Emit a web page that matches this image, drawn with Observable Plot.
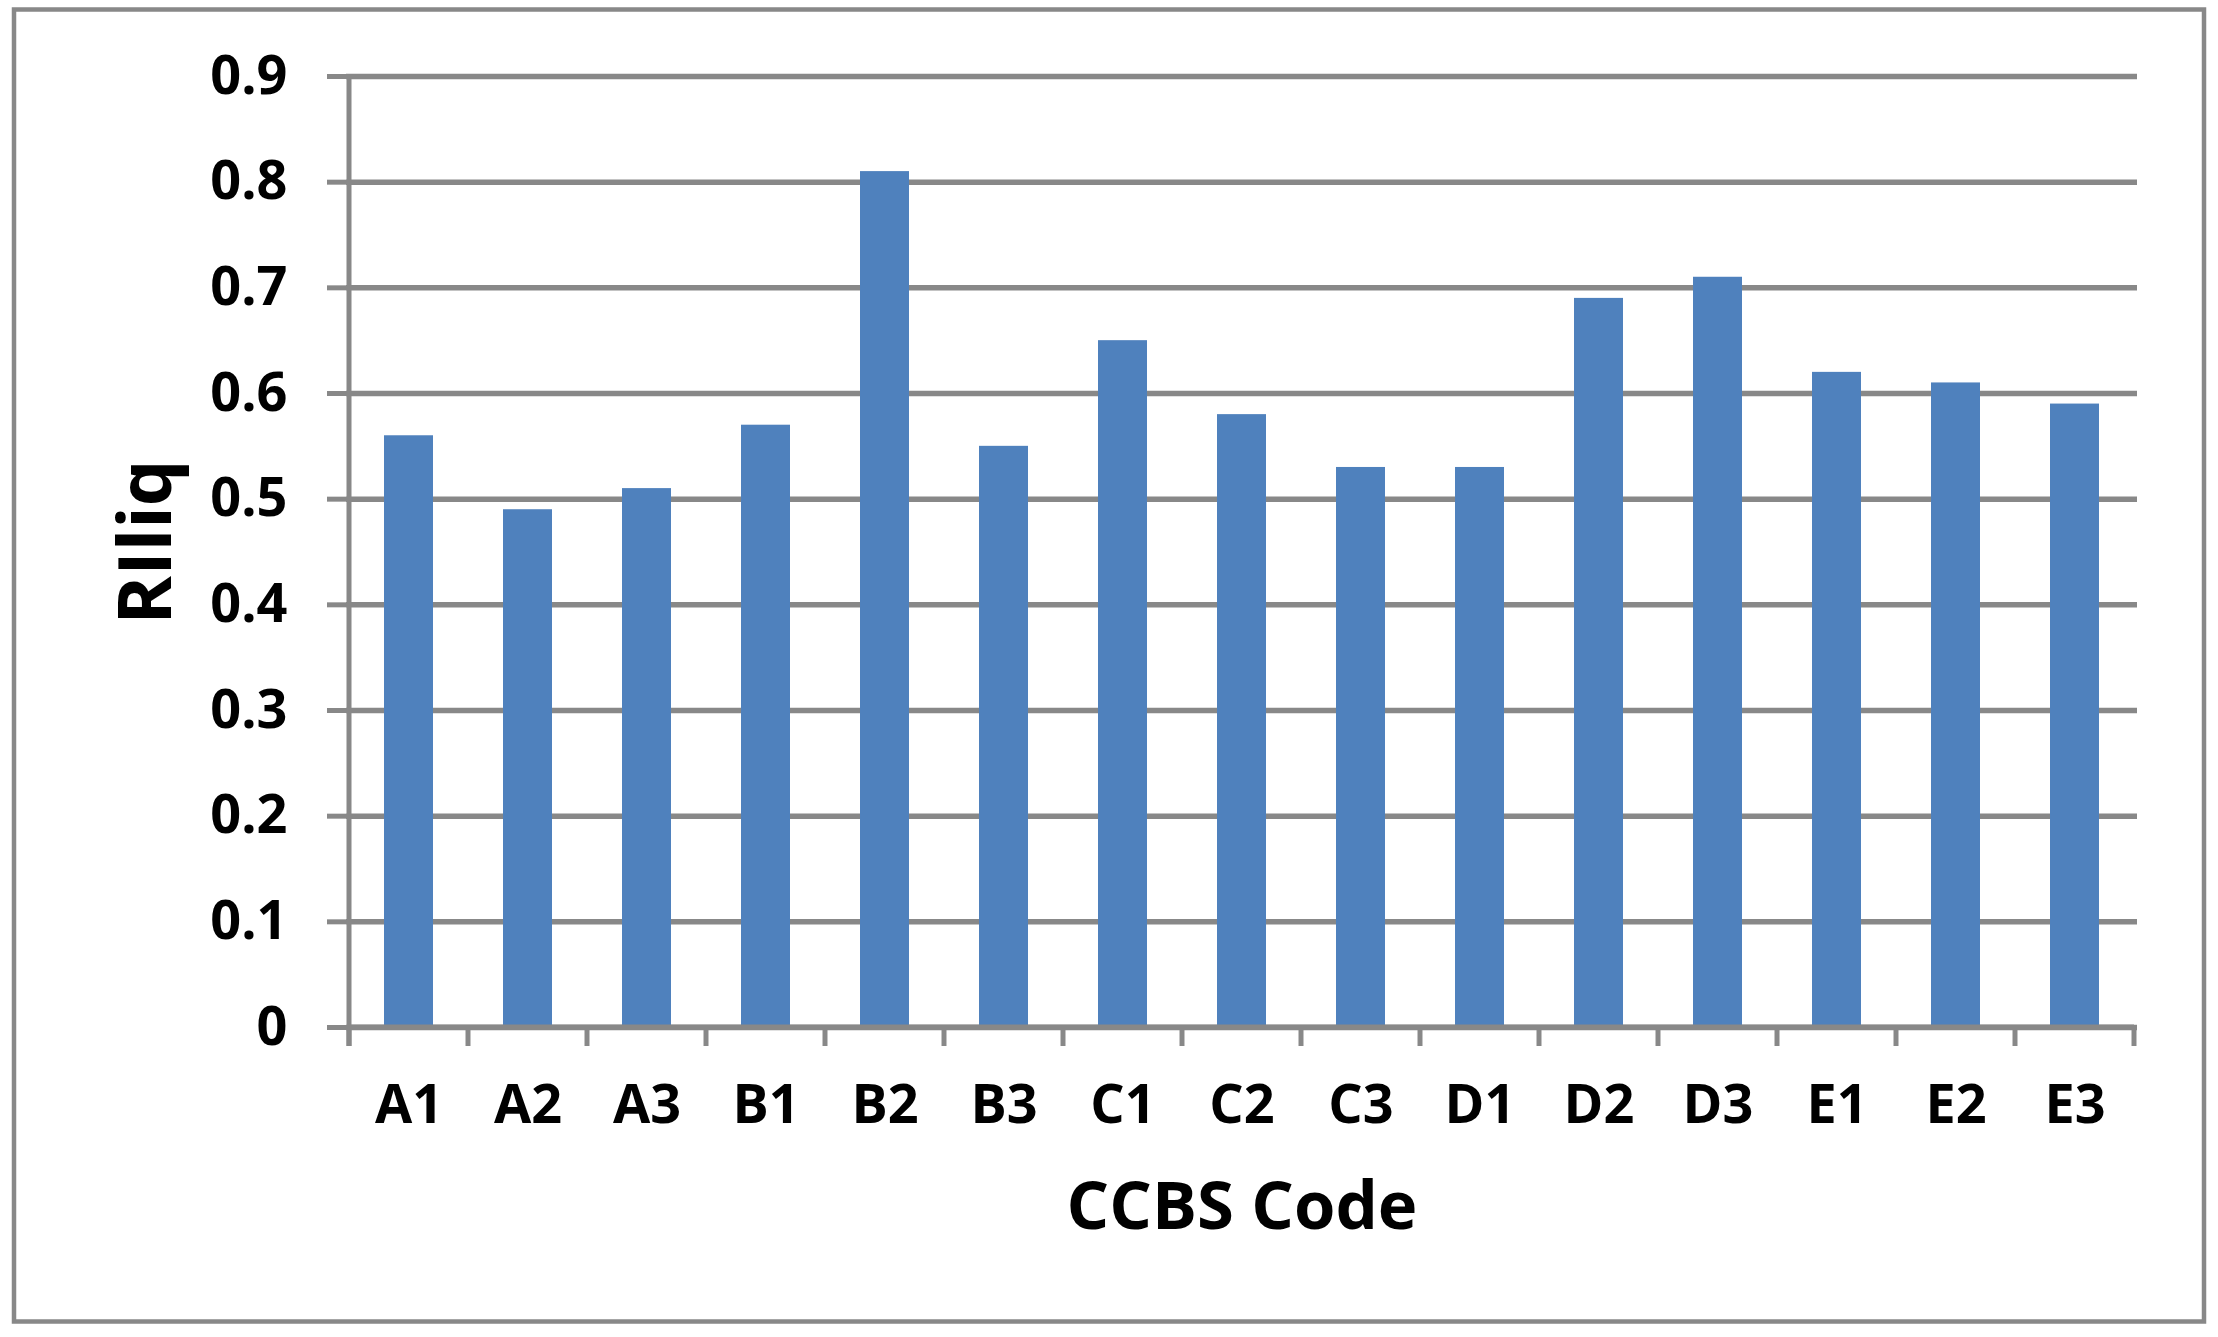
<!DOCTYPE html>
<html>
<head>
<meta charset="utf-8">
<script src="https://cdn.jsdelivr.net/npm/d3@7"></script>
<script src="https://cdn.jsdelivr.net/npm/@observablehq/plot@0.6"></script>
<style>
  html, body { margin: 0; padding: 0; background: #fff; }
  #chart svg { display: block; }
</style>
</head>
<body>
<div id="chart"></div>
<script>
// ---- data ----
const codes = ["A1", "A2", "A3", "B1", "B2", "B3", "C1", "C2", "C3", "D1", "D2", "D3", "E1", "E2", "E3"];
const rilliq = [0.56, 0.49, 0.51, 0.57, 0.81, 0.55, 0.65, 0.58, 0.53, 0.53, 0.69, 0.71, 0.62, 0.61, 0.59];
const yTicks = [0, 0.1, 0.2, 0.3, 0.4, 0.5, 0.6, 0.7, 0.8, 0.9];
const yTickLabels = ["0", "0.1", "0.2", "0.3", "0.4", "0.5", "0.6", "0.7", "0.8", "0.9"];
const xTitle = "CCBS Code";
const yTitle = "RIliq";

const data = codes.map((c, i) => ({code: c, value: rilliq[i]}));

// ---- style ----
const GRAY = "#888888";
const BAR = "#4F81BD";
const FONT = "'Open Sans', 'Liberation Sans', sans-serif";

// axis lines, category boundary ticks and chart-area border
function decorations(index, scales, values, dims) {
  const x = scales.x, y = scales.y;
  const bw = x.bandwidth();
  const step = codes.length > 1 ? x(codes[1]) - x(codes[0]) : bw;
  const gap = (step - bw) / 2;
  const bounds = codes.map(c => x(c) - gap);
  bounds.push(x(codes[codes.length - 1]) + bw + gap);
  const y0 = y(0), yTop = y(yTicks[yTicks.length - 1]);
  const g = d3.create("svg:g").attr("stroke", GRAY).attr("fill", "none");
  // x axis line
  g.append("line").attr("x1", bounds[0]).attr("x2", bounds[bounds.length - 1])
    .attr("y1", y0).attr("y2", y0).attr("stroke-width", 5);
  // boundary ticks
  for (const b of bounds) {
    g.append("line").attr("x1", b).attr("x2", b).attr("y1", y0).attr("y2", y0 + 19).attr("stroke-width", 5);
  }
  // y axis line
  g.append("line").attr("x1", bounds[0]).attr("x2", bounds[0])
    .attr("y1", yTop).attr("y2", y0 + 19).attr("stroke-width", 5);
  // chart border
  g.append("rect").attr("x", 14).attr("y", 9.5)
    .attr("width", dims.width - 28).attr("height", dims.height - 25)
    .attr("stroke-width", 4.5);
  return g.node();
}

const chart = Plot.plot({
  width: 2218,
  height: 1337,
  marginLeft: 346,
  marginRight: 81,
  marginTop: 76,
  marginBottom: 310,
  x: {domain: codes, paddingInner: 0.59, paddingOuter: 0.295, align: 0.5},
  y: {domain: [0, 0.9]},
  style: {fontFamily: FONT, fontWeight: "bold", color: "black", background: "white"},
  marks: [
    Plot.gridY(yTicks, {stroke: GRAY, strokeOpacity: 1, strokeWidth: 5.5}),
    Plot.axisY(yTicks, {
      tickSize: 19, tickPadding: 40, stroke: GRAY, strokeWidth: 5, strokeOpacity: 1,
      fill: "black", fontSize: 54, fontWeight: "bold",
      tickFormat: d => yTickLabels[yTicks.indexOf(d)], label: null
    }),
    Plot.axisX({tickSize: 0, tickPadding: 57, fill: "black", fontSize: 54, fontWeight: "bold", label: null}),
    Plot.barY(data, {x: "code", y: "value", fill: BAR}),
    decorations,
    Plot.text([xTitle], {text: d => d, frameAnchor: "bottom", dy: 201, lineAnchor: "bottom",
      fontSize: 67, fontWeight: "bold", fill: "black"}),
    Plot.text([yTitle], {text: d => d, frameAnchor: "left", rotate: -90, dx: -176, dy: -10,
      lineAnchor: "bottom", textAnchor: "middle", fontSize: 74, fontWeight: "bold", fill: "black"})
  ]
});

document.getElementById("chart").append(chart);
</script>
</body>
</html>
